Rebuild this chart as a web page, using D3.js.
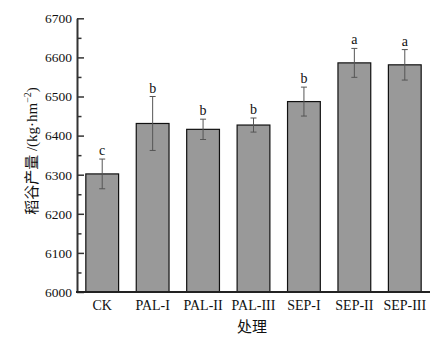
<!DOCTYPE html>
<html><head><meta charset="utf-8">
<script src="https://cdn.jsdelivr.net/npm/d3@7"></script>
<style>
body{margin:0;background:#fff;}
text{font-family:"Liberation Serif","Times New Roman","Noto Sans CJK SC",serif;fill:#111;}
</style></head>
<body><svg id="c" width="437" height="339"></svg>
<script>
const categories = ["CK","PAL-I","PAL-II","PAL-III","SEP-I","SEP-II","SEP-III"];
const values = [6302, 6431, 6416, 6427, 6487, 6586, 6581];
const errors = [38, 69, 26, 18, 37, 37, 39];
const letters = ["c","b","b","b","b","a","a"];
const yTicks = [6000,6100,6200,6300,6400,6500,6600,6700];
const yMinorTicks = [6050,6150,6250,6350,6450,6550,6650];

(function(){
const svg = d3.select("#c");
const mLeft = 77, mRight = 430, mTop = 18.3, mBottom = 292;
const x = d3.scaleBand().domain(categories).range([mLeft, mRight]).paddingInner(0.35).paddingOuter(0.175);
const y = d3.scaleLinear().domain([6000, 6700]).range([mBottom, mTop]);

// bars
svg.append("g").selectAll("rect").data(categories).join("rect")
  .attr("x", d => x(d)).attr("width", x.bandwidth())
  .attr("y", (d,i) => y(values[i])).attr("height", (d,i) => mBottom - y(values[i]))
  .attr("fill", "#999999").attr("stroke", "#111").attr("stroke-width", 1.2);

// error bars
const eg = svg.append("g").attr("stroke", "#555").attr("stroke-width", 1);
categories.forEach((c,i) => {
  const cx = x(c) + x.bandwidth()/2;
  eg.append("line").attr("x1", cx).attr("x2", cx).attr("y1", y(values[i]-errors[i])).attr("y2", y(values[i]+errors[i]));
  [values[i]-errors[i], values[i]+errors[i]].forEach(v => {
    eg.append("line").attr("x1", cx-3).attr("x2", cx+3).attr("y1", y(v)).attr("y2", y(v));
  });
});

// letters
svg.append("g").selectAll("text").data(categories).join("text")
  .attr("x", d => x(d) + x.bandwidth()/2)
  .attr("y", (d,i) => y(values[i]+errors[i]) - 4)
  .attr("text-anchor", "middle").attr("font-size", 14)
  .text((d,i) => letters[i]);

// y axis
const yAxis = svg.append("g").attr("transform", `translate(${mLeft},0)`)
  .call(d3.axisLeft(y).tickValues(yTicks).tickSizeInner(-7).tickSizeOuter(0).tickPadding(5).tickFormat(d3.format("d")));
yAxis.selectAll("text").attr("font-size", 13.5).attr("font-family", "Liberation Serif");
yAxis.select(".domain").attr("stroke", "#333").attr("stroke-width", 2);
yAxis.selectAll(".tick line").attr("stroke", "#333").attr("stroke-width", 1.5);
const yMinor = svg.append("g").attr("transform", `translate(${mLeft},0)`)
  .call(d3.axisLeft(y).tickValues(yMinorTicks).tickSizeInner(-4.5).tickSizeOuter(0).tickFormat(""));
yMinor.select(".domain").remove();
yMinor.selectAll(".tick line").attr("stroke", "#333").attr("stroke-width", 1.5);

// x axis
const xAxis = svg.append("g").attr("transform", `translate(0,${mBottom})`)
  .call(d3.axisBottom(x).tickSize(0).tickPadding(8));
xAxis.select(".domain").attr("stroke", "#222").attr("stroke-width", 2).attr("d", `M${mLeft-1},0H${mRight}`);
xAxis.selectAll("text").attr("font-size", 14).attr("font-family", "Liberation Serif");

// axis titles
svg.append("text").attr("x", 252).attr("y", 332).attr("text-anchor", "middle")
  .attr("font-size", 15).text("处理");
const yl = svg.append("text").attr("transform", "translate(37,151) rotate(-90)")
  .attr("text-anchor", "middle").attr("font-size", 15);
yl.append("tspan").text("稻谷产量 /(kg·hm");
yl.append("tspan").attr("font-size", 10).attr("dy", -6).text("−2");
yl.append("tspan").attr("dy", 6).text(")");
})();
</script></body></html>
